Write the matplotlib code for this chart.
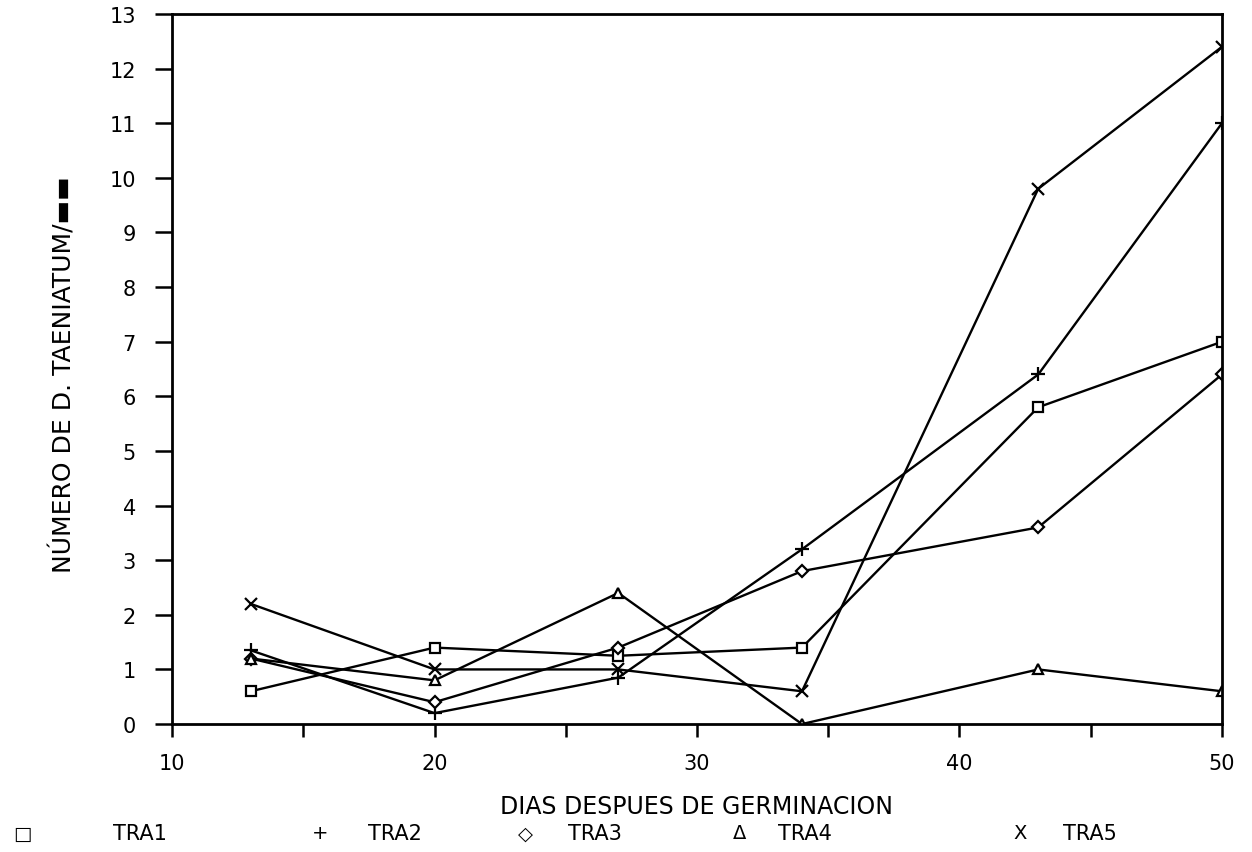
import matplotlib
matplotlib.use("Agg")
import matplotlib.pyplot as plt

# ---- data ----
dias = [13, 20, 27, 34, 43, 50]
tra1 = [0.6, 1.4, 1.25, 1.4, 5.8, 7.0]
tra2 = [1.35, 0.2, 0.85, 3.2, 6.4, 11.0]
tra3 = [1.2, 0.4, 1.4, 2.8, 3.6, 6.4]
tra4 = [1.2, 0.8, 2.4, 0.0, 1.0, 0.6]
tra5 = [2.2, 1.0, 1.0, 0.6, 9.8, 12.4]
series_names = ["TRA1", "TRA2", "TRA3", "TRA4", "TRA5"]
legend_symbols = ["□", "+", "◇", "Δ", "X"]
x_ticklabels = ["10", "20", "30", "40", "50"]
y_ticks = list(range(0, 14))

plt.rcParams['font.family'] = ['DejaVu Sans']

fig = plt.figure(figsize=(12.52, 8.53), dpi=100)
ax = fig.add_axes([0.1374, 0.150, 0.8386, 0.8324])

markers = ['s', '+', 'D', '^', 'x']
msizes = [7, 10, 6, 7, 9]
for vals, m, ms in zip([tra1, tra2, tra3, tra4, tra5], markers, msizes):
    ax.plot(dias, vals, color='black', linewidth=1.7, marker=m, markersize=ms,
            markerfacecolor='white', markeredgecolor='black', markeredgewidth=1.6)

ax.set_xlim(10, 50)
ax.set_ylim(0, 13)
ax.set_xticks([10, 20, 30, 40, 50])
ax.set_xticklabels(x_ticklabels)
ax.set_xticks([15, 25, 35, 45], minor=True)
ax.set_yticks(y_ticks)
ax.tick_params(axis='x', which='both', direction='out', length=9, width=1.8,
               labelsize=15, pad=12)
ax.tick_params(axis='y', which='major', direction='out', length=12, width=1.8,
               labelsize=15, pad=14)
for s in ax.spines.values():
    s.set_linewidth(2.0)

fig.text(64 / 1252, 1 - 375 / 853, "NÚMERO DE D. TAENIATUM/▬▬",
         rotation=90, ha='center', va='center', fontsize=18)
fig.text(697 / 1252, 1 - 807 / 853, "DIAS DESPUES DE GERMINACION",
         ha='center', va='center', fontsize=17)

sym_x = [22, 320, 525, 740, 1020]
name_x = [140, 395, 595, 805, 1090]
for sx, nx, sym, nm in zip(sym_x, name_x, legend_symbols, series_names):
    fig.text(sx / 1252, 1 - 834 / 853, sym, ha='center', va='center', fontsize=14)
    fig.text(nx / 1252, 1 - 834 / 853, nm, ha='center', va='center', fontsize=15)

fig.savefig("out.png", dpi=100, facecolor='white')
